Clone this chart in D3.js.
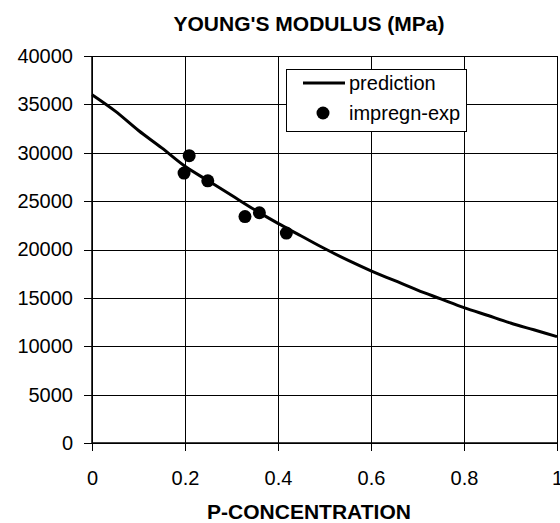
<!DOCTYPE html>
<html>
<head>
<meta charset="utf-8">
<script src="https://cdn.jsdelivr.net/npm/d3@7"></script>
<style>
  body { margin: 0; background: #fff; }
  svg { font-family: "Liberation Sans", Arial, sans-serif; }
</style>
</head>
<body>
<div id="chart"></div>
<script>
// prediction curve
const predX = [0, 0.05, 0.1, 0.15, 0.2, 0.25, 0.3, 0.35, 0.4, 0.45, 0.5, 0.55, 0.6, 0.65, 0.7, 0.75, 0.8, 0.85, 0.9, 0.95, 1];
const predY = [36000, 34300, 32300, 30500, 28600, 27100, 25600, 24100, 22700, 21400, 20100, 18900, 17800, 16800, 15800, 14900, 14000, 13200, 12400, 11700, 11000];

// experimental points
const expX = [0.198, 0.209, 0.249, 0.329, 0.36, 0.418];
const expY = [27900, 29700, 27100, 23400, 23800, 21700];

const xTicks = [0, 0.2, 0.4, 0.6, 0.8, 1];
const yTicks = [0, 5000, 10000, 15000, 20000, 25000, 30000, 35000, 40000];

const width = 560, height = 523;
const margin = { top: 56, right: 3, bottom: 80, left: 92 };

const svg = d3.select("#chart").append("svg")
    .attr("width", width)
    .attr("height", height);

const x = d3.scaleLinear().domain([0, 1]).range([margin.left, width - margin.right]);
const y = d3.scaleLinear().domain([0, 40000]).range([height - margin.bottom, margin.top]);

// gridlines (with the little outside ticks)
svg.append("g")
    .attr("stroke", "#000")
    .attr("stroke-width", 1)
    .selectAll("line")
    .data(yTicks)
    .join("line")
    .attr("x1", x(0) - 8).attr("x2", x(1))
    .attr("y1", d => Math.round(y(d)) + 0.5).attr("y2", d => Math.round(y(d)) + 0.5);

svg.append("g")
    .attr("stroke", "#000")
    .attr("stroke-width", 1)
    .selectAll("line")
    .data(xTicks)
    .join("line")
    .attr("x1", d => Math.round(x(d)) + 0.5).attr("x2", d => Math.round(x(d)) + 0.5)
    .attr("y1", y(40000)).attr("y2", y(0) + 8);

// axis lines a bit heavier
svg.append("line")
    .attr("x1", x(0)).attr("x2", x(1))
    .attr("y1", y(0)).attr("y2", y(0))
    .attr("stroke", "#000").attr("stroke-width", 1.5);
svg.append("line")
    .attr("x1", x(0)).attr("x2", x(0))
    .attr("y1", y(0)).attr("y2", y(40000))
    .attr("stroke", "#000").attr("stroke-width", 1.5);

// tick labels
const yAxis = d3.axisLeft(y).tickValues(yTicks).tickSize(0).tickPadding(19).tickFormat(d3.format("d"));
svg.append("g")
    .attr("transform", `translate(${x(0)},0)`)
    .call(yAxis)
    .call(g => g.select(".domain").remove())
    .selectAll("text")
    .attr("font-size", 20)
    .attr("fill", "#000");

const xAxis = d3.axisBottom(x).tickValues(xTicks).tickSize(0).tickPadding(28).tickFormat(d => d);
svg.append("g")
    .attr("transform", `translate(0,${y(0)})`)
    .call(xAxis)
    .call(g => g.select(".domain").remove())
    .selectAll("text")
    .attr("font-size", 20)
    .attr("fill", "#000");

// titles
svg.append("text")
    .attr("x", 309).attr("y", 31)
    .attr("text-anchor", "middle")
    .attr("font-size", 21).attr("font-weight", "bold")
    .text("YOUNG'S MODULUS (MPa)");

svg.append("text")
    .attr("x", 309).attr("y", 519)
    .attr("text-anchor", "middle")
    .attr("font-size", 21).attr("font-weight", "bold")
    .text("P-CONCENTRATION");

// prediction line
const line = d3.line()
    .x((d, i) => x(predX[i]))
    .y(d => y(d))
    .curve(d3.curveMonotoneX);

svg.append("path")
    .datum(predY)
    .attr("d", line)
    .attr("fill", "none")
    .attr("stroke", "#000")
    .attr("stroke-width", 3);

// experiment points
svg.append("g")
    .selectAll("circle")
    .data(expY)
    .join("circle")
    .attr("cx", (d, i) => x(expX[i]))
    .attr("cy", d => y(d))
    .attr("r", 6.5)
    .attr("fill", "#000");

// legend
const legend = svg.append("g").attr("transform", "translate(286,69)");
legend.append("rect")
    .attr("x", 0.5).attr("y", 0.5)
    .attr("width", 180).attr("height", 62)
    .attr("fill", "#fff")
    .attr("stroke", "#000");
legend.append("line")
    .attr("x1", 17).attr("x2", 59)
    .attr("y1", 14).attr("y2", 14)
    .attr("stroke", "#000").attr("stroke-width", 3);
legend.append("text")
    .attr("x", 63).attr("y", 21)
    .attr("font-size", 20)
    .text("prediction");
legend.append("circle")
    .attr("cx", 37).attr("cy", 44)
    .attr("r", 6.5)
    .attr("fill", "#000");
legend.append("text")
    .attr("x", 63).attr("y", 51)
    .attr("font-size", 20)
    .text("impregn-exp");
</script>
</body>
</html>
